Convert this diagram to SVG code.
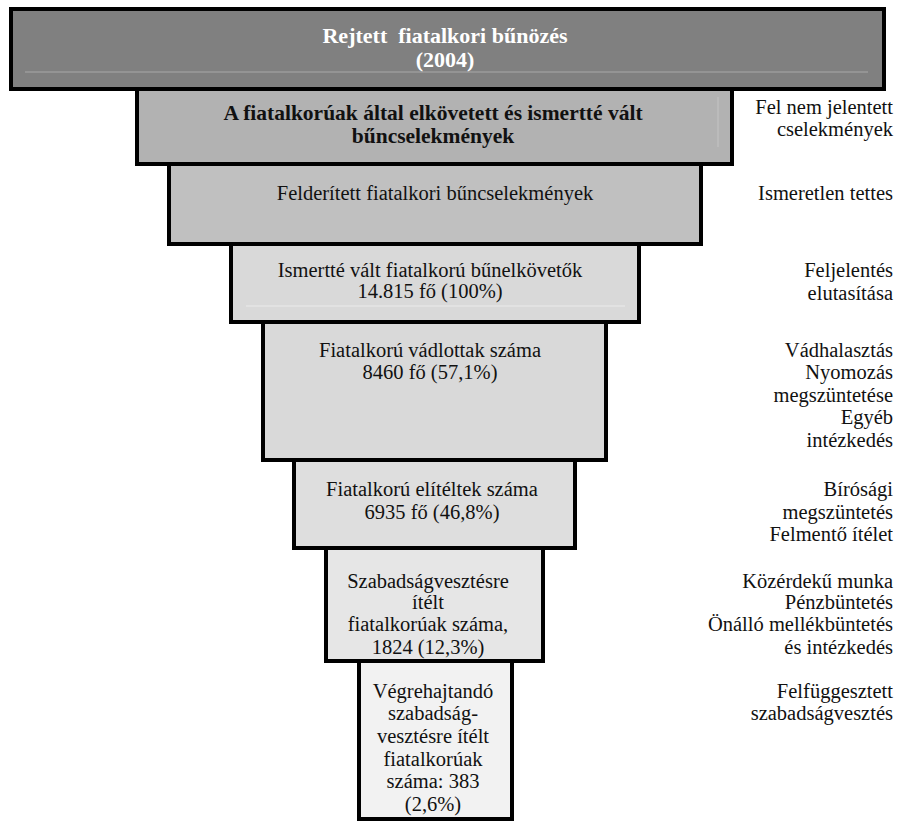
<svg xmlns="http://www.w3.org/2000/svg" width="900" height="825" viewBox="0 0 900 825">
<style>
.box{stroke:#000;stroke-width:4}
.t{font-family:"Liberation Serif","Times New Roman",serif;font-size:20.5px;fill:#111;text-anchor:middle}
.b{font-weight:bold;font-size:21.5px}
.w{fill:#fff;font-size:22px;white-space:pre}
.r{font-family:"Liberation Serif","Times New Roman",serif;font-size:20.5px;fill:#111;text-anchor:end}
.faint{stroke-width:1;fill:none}
</style>
<rect width="900" height="825" fill="#fff"/>
<g id="level1">
<rect class="box" x="11" y="9" width="873" height="80" fill="#808080"/>
<line class="faint" x1="25" y1="72" x2="868" y2="72" stroke="#a8a8a8"/>
<text class="t b w" x="445" y="43" xml:space="preserve">Rejtett  fiatalkori bűnözés</text>
<text class="t b w" x="445" y="67">(2004)</text>
</g>
<g id="level2">
<rect class="box" x="137" y="89" width="595" height="75" fill="#b2b2b2"/>
<line class="faint" x1="718" y1="97" x2="718" y2="147" stroke="#c4c4c4"/>
<text class="t b" x="433" y="120">A fiatalkorúak által elkövetett és ismertté vált</text>
<text class="t b" x="433" y="143">bűncselekmények</text>
</g>
<g id="level3">
<rect class="box" x="169" y="164" width="532" height="80" fill="#c0c0c0"/>
<text class="t" x="435" y="200">Felderített fiatalkori bűncselekmények</text>
</g>
<g id="level4">
<rect class="box" x="231" y="244" width="408" height="78" fill="#d9d9d9"/>
<line class="faint" x1="246" y1="306" x2="625" y2="306" stroke="#ebebeb"/>
<text class="t" x="430" y="277">Ismertté vált fiatalkorú bűnelkövetők</text>
<text class="t" x="430" y="298">14.815 fő (100%)</text>
</g>
<g id="level5">
<rect class="box" x="263" y="322" width="343" height="138" fill="#d9d9d9"/>
<text class="t" x="430" y="357">Fiatalkorú vádlottak száma</text>
<text class="t" x="430" y="379">8460 fő (57,1%)</text>
</g>
<g id="level6">
<rect class="box" x="294" y="460" width="281" height="88" fill="#dedede"/>
<text class="t" x="432" y="496">Fiatalkorú elítéltek száma</text>
<text class="t" x="432" y="519">6935 fő (46,8%)</text>
</g>
<g id="level7">
<rect class="box" x="326" y="548" width="217" height="113" fill="#e6e6e6"/>
<text class="t" x="428" y="588">Szabadságvesztésre</text>
<text class="t" x="428" y="609">ítélt</text>
<text class="t" x="428" y="631">fiatalkorúak száma,</text>
<text class="t" x="428" y="654">1824 (12,3%)</text>
</g>
<g id="level8">
<rect class="box" x="359" y="661" width="153" height="158" fill="#f2f2f2"/>
<text class="t" x="433" y="698">Végrehajtandó</text>
<text class="t" x="433" y="720">szabadság-</text>
<text class="t" x="433" y="743">vesztésre ítélt</text>
<text class="t" x="433" y="766">fiatalkorúak</text>
<text class="t" x="433" y="788">száma: 383</text>
<text class="t" x="433" y="811">(2,6%)</text>
</g>
<g id="connectors"></g>
<g id="side-labels">
<text class="r" x="893" y="114">Fel nem jelentett</text>
<text class="r" x="893" y="136">cselekmények</text>
<text class="r" x="893" y="200">Ismeretlen tettes</text>
<text class="r" x="893" y="277">Feljelentés</text>
<text class="r" x="893" y="300">elutasítása</text>
<text class="r" x="893" y="357">Vádhalasztás</text>
<text class="r" x="893" y="379">Nyomozás</text>
<text class="r" x="893" y="402">megszüntetése</text>
<text class="r" x="893" y="424">Egyéb</text>
<text class="r" x="893" y="447">intézkedés</text>
<text class="r" x="893" y="496">Bírósági</text>
<text class="r" x="893" y="519">megszüntetés</text>
<text class="r" x="893" y="541">Felmentő ítélet</text>
<text class="r" x="893" y="588">Közérdekű munka</text>
<text class="r" x="893" y="609">Pénzbüntetés</text>
<text class="r" x="893" y="631">Önálló mellékbüntetés</text>
<text class="r" x="893" y="654">és intézkedés</text>
<text class="r" x="893" y="698">Felfüggesztett</text>
<text class="r" x="893" y="720">szabadságvesztés</text>
</g>
</svg>
